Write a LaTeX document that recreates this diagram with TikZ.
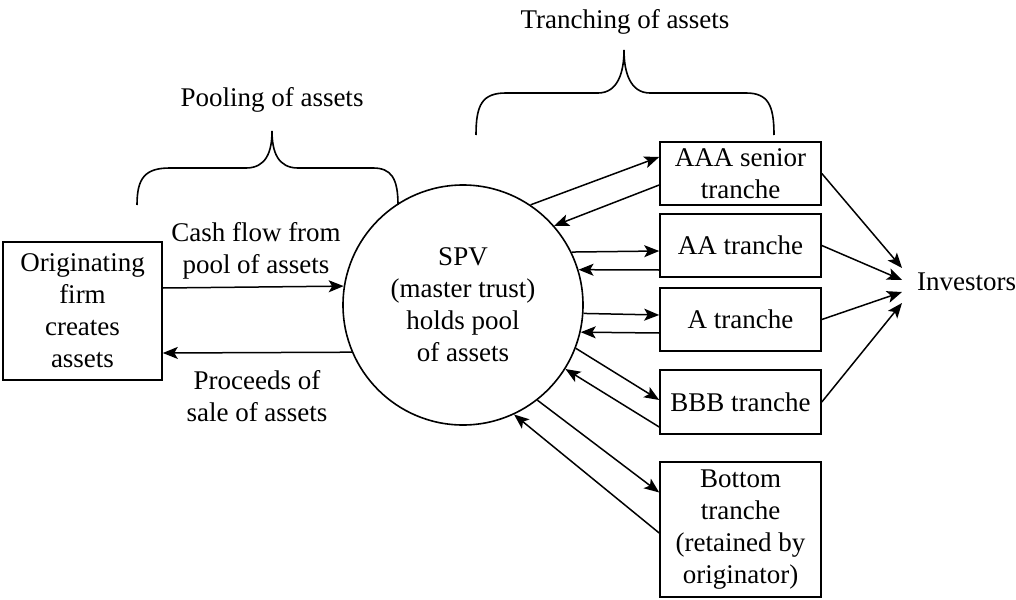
\documentclass[tikz,border=0pt]{standalone}
\usepackage{fontspec}
\setmainfont{Liberation Serif}
\usetikzlibrary{arrows.meta,calc}
\begin{document}
\begin{tikzpicture}[x=1pt,y=-1pt,
  every node/.style={font=\rmfamily\fontsize{27}{32}\selectfont},
  box/.style={draw,line width=1.6pt,align=center,inner sep=0pt},
  tbox/.style={box,minimum width=161pt},
  con/.style={line width=1.5pt,-{Stealth[length=15pt,width=12pt,inset=3.5pt]}},
  brace/.style={line width=1.6pt}]
\useasboundingbox (0,0) rectangle (1016,599);
% nodes
\node[box,minimum width=159pt,minimum height=138pt] (orig) at (82.5,311) {Originating\\firm\\creates\\assets};
\node[circle,draw,line width=1.6pt,minimum size=240pt,inner sep=0pt,align=center] (spv) at (463,305) {SPV\\(master trust)\\holds pool\\of assets};
\node[tbox,minimum height=63pt] (aaa) at (740.5,173.5) {AAA senior\\tranche};
\node[tbox,minimum height=63pt] (aa) at (740.5,245.5) {AA tranche};
\node[tbox,minimum height=63pt] (a) at (740.5,319.5) {A tranche};
\node[tbox,minimum height=64pt] (bbb) at (740.5,402) {BBB tranche};
\node[tbox,minimum height=135pt] (bot) at (740.5,529.5) {Bottom\\tranche\\(retained by\\originator)};
\node[anchor=base west,inner sep=0pt] (inv) at (917,290) {Investors};
\node[align=center] (cf) at (256,251) {Cash flow from\\pool of assets};
\node[align=center] (pr) at (257,396) {Proceeds of\\sale of assets};
\node (pool) at (272,100) {Pooling of assets};
\node (tr) at (625,22) {Tranching of assets};
% investor arrow tips
\coordinate (i1) at (902,268);
\coordinate (i2) at (902,280);
\coordinate (i3) at (902,292);
\coordinate (i4) at (902,303);
% originator <-> SPV
\draw[con] ($(orig.east)+(0,-23)$) -- (spv.171.9);
\draw[con] (spv.203.6) -- ($(orig.east)+(0,42)$);
% SPV <-> tranches
\draw[con] (spv.56) -- ($(aaa.west)+(0,-16.5)$);
\draw[con] ($(aaa.west)+(0,11.5)$) -- (spv.41.5);
\draw[con] (spv.26.7) -- ($(aa.west)+(0,5.5)$);
\draw[con] ($(aa.west)+(0,24.5)$) -- (spv.17);
\draw[con] (spv.-4.8) -- ($(a.west)+(0,-4.5)$);
\draw[con] ($(a.west)+(0,13.5)$) -- (spv.-13.5);
\draw[con] (spv.-21.9) -- ($(bbb.west)+(0,-2)$);
\draw[con] ($(bbb.west)+(0,25)$) -- (spv.-32.8);
\draw[con] (spv.-52) -- ($(bot.west)+(0,-37)$);
\draw[con] ($(bot.west)+(0,3.5)$) -- (spv.-65.6);
% tranches -> investors
\draw[con] (aaa.east) -- (i1);
\draw[con] (aa.east) -- (i2);
\draw[con] (a.east) -- (i3);
\draw[con] (bbb.east) -- (i4);
% braces
\draw[brace] (137,205) .. controls (137,178) and (145,168) .. (170,168) -- (246,168)
  .. controls (266,168) and (272,152) .. (272,131)
  .. controls (272,152) and (278,168) .. (298,168) -- (373,168)
  .. controls (391,168) and (398,178) .. (398,205);
\draw[brace] (476,135) .. controls (476,105) and (482,93) .. (506,93) -- (598,93)
  .. controls (618,93) and (624,72) .. (624,50)
  .. controls (624,72) and (630,93) .. (650,93) -- (746,93)
  .. controls (768,93) and (774,105) .. (774,135);
\end{tikzpicture}
\end{document}
